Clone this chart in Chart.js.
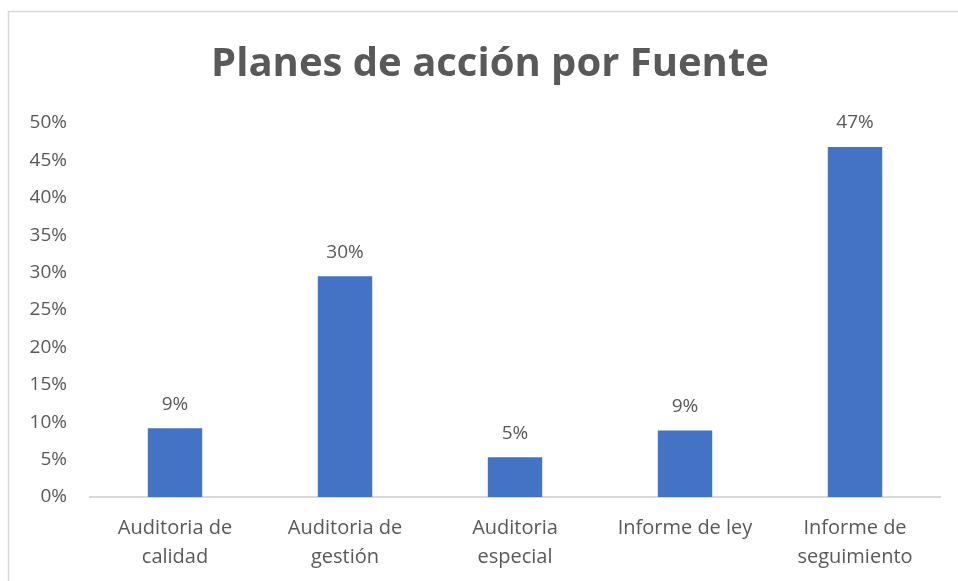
<!DOCTYPE html>
<html>
<head>
<meta charset="utf-8">
<script src="https://cdn.jsdelivr.net/npm/chart.js@4.4.1/dist/chart.umd.min.js"></script>
<style>
  html, body { margin: 0; padding: 0; background: #fff; }
  #wrap { position: relative; width: 958px; height: 581px; }
</style>
</head>
<body>
<div id="wrap"><canvas id="chart" width="958" height="581"></canvas></div>
<script>
const chartTitle = 'Planes de acción por Fuente';
const categories = [
    ['Auditoria de', 'calidad'],
    ['Auditoria de', 'gestión'],
    ['Auditoria', 'especial'],
    'Informe de ley',
    ['Informe de', 'seguimiento']
];
const shares = [9.2, 29.5, 5.3, 8.9, 46.8];
const yTicks = [0, 5, 10, 15, 20, 25, 30, 35, 40, 45, 50];

const textColor = '#595959';
const barColor = '#4472C4';
const lineColor = '#D9D9D9';
const fontName = "'Open Sans', Lato, sans-serif";

Chart.defaults.font.family = fontName;
Chart.defaults.color = textColor;

// frame + title, drawn the way the office chart shows them
const frameAndTitle = {
    id: 'frameAndTitle',
    beforeDraw(chart) {
        const ctx = chart.ctx;
        ctx.save();
        ctx.fillStyle = '#fff';
        ctx.fillRect(0, 0, chart.width, chart.height);
        ctx.strokeStyle = lineColor;
        ctx.lineWidth = 1.5;
        ctx.strokeRect(8.5, 11.5, 1000, 1000);
        ctx.fillStyle = textColor;
        ctx.font = "bold 40px " + fontName;
        ctx.textAlign = 'center';
        ctx.textBaseline = 'alphabetic';
        ctx.fillText(chartTitle, 490, 76);
        ctx.restore();
    }
};

// percentage labels above each bar
const barLabels = {
    id: 'barLabels',
    afterDatasetsDraw(chart) {
        const ctx = chart.ctx;
        const meta = chart.getDatasetMeta(0);
        ctx.save();
        ctx.fillStyle = textColor;
        ctx.font = "19px " + fontName;
        ctx.textAlign = 'center';
        ctx.textBaseline = 'middle';
        meta.data.forEach((bar, i) => {
            ctx.fillText(Math.round(shares[i]) + '%', bar.x, bar.y - 24);
        });
        ctx.restore();
    }
};

const ctx = document.getElementById('chart').getContext('2d');
new Chart(ctx, {
    type: 'bar',
    data: {
        labels: categories,
        datasets: [{
            data: shares,
            backgroundColor: barColor,
            categoryPercentage: 1,
            barPercentage: 0.32
        }]
    },
    plugins: [frameAndTitle, barLabels],
    options: {
        responsive: false,
        animation: false,
        events: [],
        layout: {
            padding: { top: 123, right: 18, left: 0, bottom: 0 }
        },
        plugins: {
            legend: { display: false },
            title: { display: false },
            tooltip: { enabled: false }
        },
        scales: {
            x: {
                grid: { display: false, drawTicks: false },
                border: { display: true, color: lineColor, width: 2 },
                ticks: {
                    padding: 17,
                    maxRotation: 0,
                    autoSkip: false,
                    font: { size: 20, lineHeight: 1.45 },
                    color: textColor
                },
                afterFit(scale) { scale.height = 84; }
            },
            y: {
                min: 0,
                max: 50,
                grid: { display: false, drawTicks: false },
                border: { display: false },
                afterBuildTicks(scale) {
                    scale.ticks = yTicks.map(v => ({ value: v }));
                },
                ticks: {
                    padding: 23,
                    font: { size: 19 },
                    color: textColor,
                    callback: v => v + '%'
                },
                afterFit(scale) { scale.width = 90; }
            }
        }
    }
});
</script>
</body>
</html>
